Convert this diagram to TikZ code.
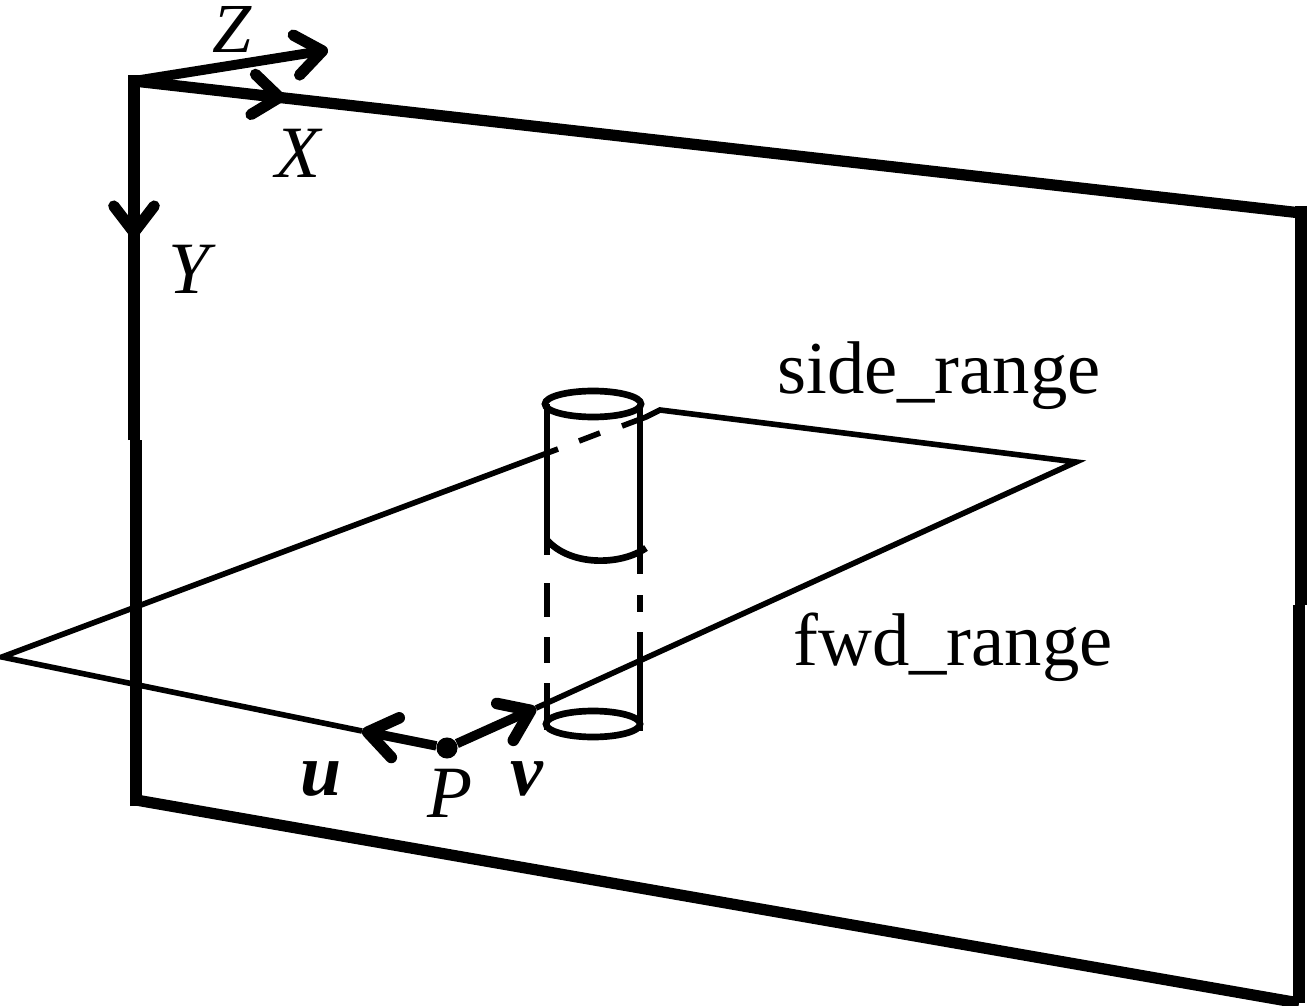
\documentclass[tikz,border=0pt]{standalone}
\usepackage{fontspec}
\setmainfont{Liberation Serif}
\usetikzlibrary{arrows.meta, positioning, calc}

\begin{document}
\begin{tikzpicture}[
      x=0.02cm, y=-0.02cm,
      frameline/.style={line width=6.4pt, line cap=butt},
      planeline/.style={line width=3.2pt},
      cylline/.style={line width=3.8pt},
      axisarr/.style={line width=5.6pt, -{Straight Barb[length=15pt, width=23pt, line width=6.4pt, round]}},
      vecarr/.style={line width=5.4pt, -{Straight Barb[length=16pt, width=23pt, line width=6.6pt, round]}},
      lbl/.style={inner sep=0pt, font=\fontsize{42.5}{46}\selectfont},
      axislbl/.style={lbl, font=\fontsize{42}{46}\selectfont\itshape},
      veclbl/.style={lbl, font=\fontsize{42}{46}\selectfont\bfseries\itshape}
    ]
      \useasboundingbox (0,0) rectangle (1307,1006);

      % Frame
      \coordinate (orig) at (134,81);
      \coordinate (tr) at (1301,213);
      \coordinate (rstepa) at (1301,605);
      \coordinate (rstepb) at (1299,605);
      \coordinate (br) at (1299,1003);
      \coordinate (bl) at (136,800);
      \coordinate (lstepa) at (136,440);
      \coordinate (lstepb) at (134,440);
      \draw[frameline] (orig) -- (tr);
      \draw[frameline, line width=6.8pt] (1301,206) -- (rstepa);
      \draw[frameline, line width=6.8pt] (rstepb) -- (br);
      \draw[frameline] (br) -- (bl);
      \draw[frameline, line width=6.8pt] (136,806) -- (lstepa);
      \draw[frameline, line width=6.8pt] (lstepb) -- (134,75);

      % Plane
      \coordinate (pl) at (2,657);
      \coordinate (pr) at (1076,462);
      \coordinate (pb) at (660,410);
      \coordinate (pf) at (536,708);
      \node[circle, fill, inner sep=0pt, minimum size=12pt] (ptP) at (447,748) {};
      \coordinate (tipu) at (362,731);
      \coordinate (dasha) at (558,449);
      \coordinate (dashb) at (579,441);
      \coordinate (dashc) at (600,433);
      \coordinate (dashd) at (622,426);
      \coordinate (dashe) at (646,417);
      \draw[planeline] (tipu) -- (pl) -- (dasha);
      \draw[planeline] (dashb) -- (dashc);
      \draw[planeline] (dashd) -- (dashe) -- (pb) -- (pr) -- (pf);

      % Cylinder
      \draw[cylline] (593,404) ellipse (48 and 13);
      \draw[cylline] (593,724) ellipse (47 and 13);
      \coordinate (ltop) at (547,404);
      \coordinate (rtop) at (640,404);
      \draw[cylline] (ltop) -- (547,555);
      \draw[cylline] (rtop) -- (640,574);
      \draw[cylline] (547,540) .. controls (570,566) and (620,566) .. (646,548);
      \draw[cylline] (547,583) -- (547,617);
      \draw[cylline] (547,637) -- (547,663);
      \draw[cylline] (547,683) -- (547,730);
      \draw[cylline] (640,595) -- (640,612);
      \draw[cylline] (640,632) -- (640,731);

      % Axes
      \coordinate (tipz) at (328,50);
      \coordinate (tipx) at (285,98);
      \coordinate (tipy) at (134,238);
      \draw[axisarr] (orig) -- (tipz);
      \draw[axisarr] (orig) -- (tipx);
      \draw[axisarr] (orig) -- (tipy);

      % Vectors at P
      \draw[vecarr] (ptP) -- (tipu);
      \draw[vecarr] (ptP) -- (pf);

      \node[axislbl, font=\fontsize{40}{44}\selectfont\itshape] (zlbl) at (232,29) {Z};
      \node[axislbl] (xlbl) at (298,153) {X};
      \node[axislbl] (ylbl) at (189,269) {Y};
      \node[axislbl] (plbl) at (450,793) {P};
      \node[veclbl] (ulbl) at (321,779) {u};
      \node[veclbl] (vlbl) at (527,779) {v};
      \node[lbl] (side) at (939,376) {side\_range};
      \node[lbl] (fwd) at (953,647) {fwd\_range};
    \end{tikzpicture}
\end{document}
